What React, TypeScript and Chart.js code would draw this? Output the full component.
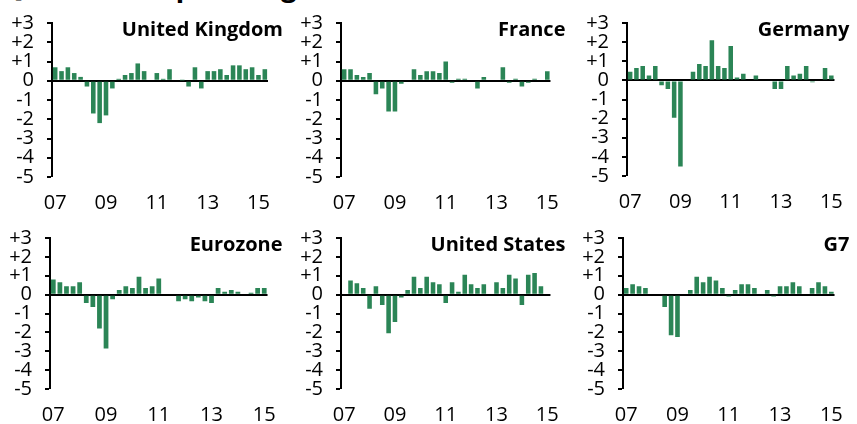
import React, { useEffect, useRef } from "react";
import { Chart, registerables } from "chart.js";

Chart.register(...registerables);

// Categories: quarters 2007 Q1 – 2015 Q2
const quarters = [
  "2007 Q1", "2007 Q2", "2007 Q3", "2007 Q4",
  "2008 Q1", "2008 Q2", "2008 Q3", "2008 Q4",
  "2009 Q1", "2009 Q2", "2009 Q3", "2009 Q4",
  "2010 Q1", "2010 Q2", "2010 Q3", "2010 Q4",
  "2011 Q1", "2011 Q2", "2011 Q3", "2011 Q4",
  "2012 Q1", "2012 Q2", "2012 Q3", "2012 Q4",
  "2013 Q1", "2013 Q2", "2013 Q3", "2013 Q4",
  "2014 Q1", "2014 Q2", "2014 Q3", "2014 Q4",
  "2015 Q1", "2015 Q2",
];

// x tick labels (shown under Q1 of these years)
const xTickQuarters = ["2007 Q1", "2009 Q1", "2011 Q1", "2013 Q1", "2015 Q1"];
const xTickText = ["07", "09", "11", "13", "15"];

// y axis range
const yMin = -5;
const yMax = 3;

// Quarter-on-quarter growth, %
const ukValues = [
  0.7, 0.5, 0.7, 0.4, 0.2, -0.3, -1.7, -2.2, -1.8, -0.4, 0.1, 0.3, 0.4, 0.9, 0.5, 0.0, 0.4,
  0.1, 0.6, 0.0, 0.02, -0.3, 0.7, -0.4, 0.5, 0.5, 0.6, 0.3, 0.8, 0.8, 0.6, 0.7, 0.3, 0.6,
];
const franceValues = [
  0.6, 0.6, 0.3, 0.2, 0.4, -0.7, -0.4, -1.6, -1.6, -0.15, 0.0, 0.6, 0.3, 0.5, 0.5, 0.4, 1.0,
  -0.1, 0.1, 0.1, 0.0, -0.4, 0.2, 0.0, 0.0, 0.7, -0.1, 0.1, -0.3, -0.1, 0.1, 0.0, 0.5,
];
const germanyValues = [
  0.45, 0.65, 0.75, 0.25, 0.75, -0.25, -0.45, -1.95, -4.5, 0.0, 0.45, 0.85, 0.75, 2.1, 0.75,
  0.65, 1.8, 0.15, 0.35, 0.0, 0.25, 0.0, 0.0, -0.45, -0.45, 0.75, 0.25, 0.35, 0.75, -0.1, 0.0,
  0.65, 0.25,
];
const eurozoneValues = [
  0.8, 0.65, 0.45, 0.45, 0.65, -0.45, -0.65, -1.8, -2.85, -0.25, 0.25, 0.45, 0.35, 0.95, 0.35,
  0.45, 0.85, 0.0, 0.0, -0.35, -0.25, -0.35, -0.15, -0.35, -0.45, 0.35, 0.15, 0.25, 0.15, 0.0,
  0.1, 0.35, 0.35,
];
const usValues = [
  0.0, 0.75, 0.6, 0.35, -0.75, 0.45, -0.55, -2.05, -1.45, -0.15, 0.25, 0.95, 0.35, 0.95, 0.65,
  0.55, -0.45, 0.65, 0.15, 1.05, 0.55, 0.35, 0.55, 0.0, 0.65, 0.35, 1.05, 0.85, -0.55, 1.05,
  1.15, 0.45, 0.0,
];
const g7Values = [
  0.35, 0.55, 0.45, 0.35, 0.0, 0.0, -0.65, -2.15, -2.25, 0.0, 0.25, 0.95, 0.65, 0.95, 0.75,
  0.35, -0.1, 0.25, 0.55, 0.55, 0.35, 0.0, 0.25, -0.1, 0.45, 0.45, 0.65, 0.45, 0.0, 0.35, 0.65,
  0.45, 0.15,
];

const FONT = '"Open Sans", "Noto Sans", "DejaVu Sans", sans-serif';
const BAR_COLOR = "#2b8556";
const TEXT_COLOR = "#000";

type Box = { x: number; y: number; w: number; h: number };
type Area = { l: number; r: number; t: number; b: number };

type PanelProps = { name: string; values: number[]; box: Box; area: Area };

function Panel({ name, values, box, area }: PanelProps) {
  const ref = useRef<HTMLCanvasElement | null>(null);

  useEffect(() => {
    const canvas = ref.current;
    if (!canvas) return;
    const labels = quarters.slice(0, values.length);
    const yAxisWidth = area.l - box.x;
    const xAxisHeight = box.y + box.h - area.b;

    const titlePlugin = {
      id: "panelTitle",
      afterDraw(chart: any) {
        const { ctx, chartArea } = chart;
        ctx.save();
        ctx.font = `bold 20px ${FONT}`;
        ctx.fillStyle = TEXT_COLOR;
        ctx.textAlign = "right";
        ctx.textBaseline = "alphabetic";
        ctx.fillText(name, chartArea.right + 15, chartArea.top + 13);
        ctx.restore();
      },
    };

    const chart = new Chart(canvas, {
      type: "bar",
      data: {
        labels,
        datasets: [
          {
            data: values,
            backgroundColor: BAR_COLOR,
            borderWidth: 0,
            barPercentage: 0.72,
            categoryPercentage: 1,
          },
        ],
      },
      options: {
        responsive: false,
        animation: false,
        devicePixelRatio: 1,
        layout: {
          padding: {
            top: area.t - box.y,
            right: box.x + box.w - area.r,
            left: 0,
            bottom: 0,
          },
        },
        plugins: {
          legend: { display: false },
          tooltip: { enabled: false },
          title: { display: false },
        },
        scales: {
          x: {
            grid: { display: false, drawTicks: false, tickLength: 0 },
            border: { display: false },
            ticks: {
              autoSkip: false,
              maxRotation: 0,
              minRotation: 0,
              padding: 14,
              color: TEXT_COLOR,
              font: { family: FONT, size: 20 },
              callback: (_v: any, i: number) => {
                const k = xTickQuarters.indexOf(labels[i]);
                return k >= 0 ? xTickText[k] : "";
              },
            },
            afterFit: (s: any) => {
              s.height = xAxisHeight;
            },
          },
          y: {
            min: yMin,
            max: yMax,
            z: 1,
            ticks: {
              stepSize: 1,
              autoSkip: false,
              padding: 13,
              color: TEXT_COLOR,
              font: { family: FONT, size: 20, lineHeight: 1 },
              callback: (v: any) => (Number(v) > 0 ? `+${v}` : `${v}`),
            },
            grid: {
              drawOnChartArea: true,
              color: (c: any) => (c.tick && c.tick.value === 0 ? "#000" : "rgba(0,0,0,0)"),
              lineWidth: (c: any) => (c.tick && c.tick.value === 0 ? 2 : 0),
              tickColor: "#000",
              tickLength: 5,
              tickWidth: 2,
            },
            border: { display: true, color: "#000", width: 2 },
            afterFit: (s: any) => {
              s.width = yAxisWidth;
            },
          },
        },
      },
      plugins: [titlePlugin],
    } as any);

    return () => {
      chart.destroy();
    };
  }, [name, values, box, area]);

  return (
    <canvas
      ref={ref}
      width={box.w}
      height={box.h}
      style={{ position: "absolute", left: box.x, top: box.y, width: box.w, height: box.h }}
    />
  );
}

const panels: PanelProps[] = [
  { name: "United Kingdom", values: ukValues, box: { x: 0, y: 0, w: 290, h: 215 }, area: { l: 52, r: 268, t: 21, b: 177 } },
  { name: "France", values: franceValues, box: { x: 290, y: 0, w: 283, h: 215 }, area: { l: 341, r: 555, t: 21, b: 177 } },
  { name: "Germany", values: germanyValues, box: { x: 573, y: 0, w: 284, h: 215 }, area: { l: 627, r: 841, t: 20, b: 176 } },
  { name: "Eurozone", values: eurozoneValues, box: { x: 0, y: 215, w: 290, h: 209 }, area: { l: 50, r: 269, t: 231, b: 389 } },
  { name: "United States", values: usValues, box: { x: 290, y: 215, w: 283, h: 209 }, area: { l: 341, r: 554, t: 231, b: 389 } },
  { name: "G7", values: g7Values, box: { x: 573, y: 215, w: 284, h: 209 }, area: { l: 623, r: 842, t: 231, b: 389 } },
];

export default function App() {
  return (
    <div
      style={{
        position: "absolute",
        left: 0,
        top: 0,
        width: 857,
        height: 424,
        overflow: "hidden",
        background: "#fff",
      }}
    >
      <div
        style={{
          position: "absolute",
          left: 1,
          top: -29,
          font: `bold 28px ${FONT}`,
          lineHeight: "28px",
          whiteSpace: "nowrap",
          color: TEXT_COLOR,
        }}
      >
        Quarter-on-quarter growth rates
      </div>
      {panels.map((p) => (
        <Panel key={p.name} {...p} />
      ))}
    </div>
  );
}
